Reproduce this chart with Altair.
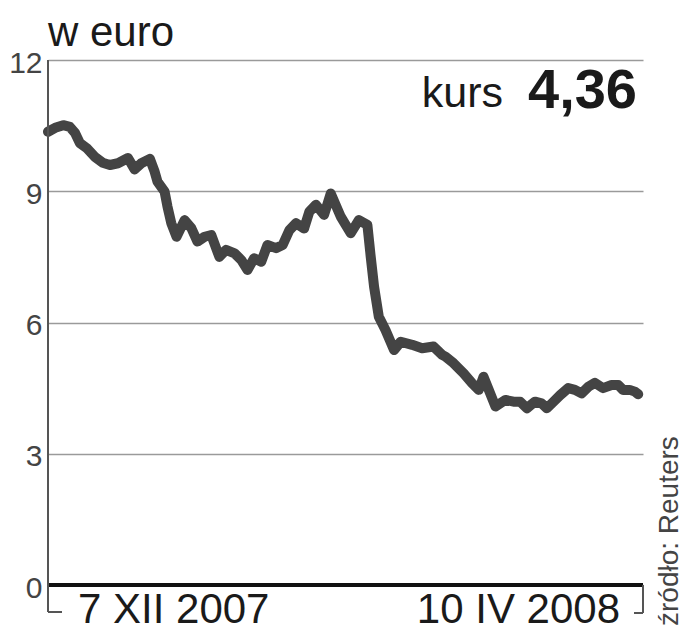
import altair as alt
import pandas as pd

# day offset from 7 XII 2007 and value (w euro)
days = [0, 1.5, 3.2, 4.6, 5.7, 6.7, 8.1, 9.8, 11.5, 13.0, 14.7, 16.8, 18.2, 19.6, 21.4,
        22.4, 23.0, 24.5, 25.1, 25.9, 27.0, 28.7, 30.1, 31.4, 32.9, 34.3, 36.0, 37.4,
        39.2, 40.6, 41.9, 43.3, 44.8, 46.1, 47.9, 49.3, 50.7, 52.1, 53.8, 54.9, 56.3,
        58.0, 59.4, 61.5, 63.6, 65.3, 67.1, 67.8, 68.5, 69.5, 70.9, 72.7, 74.1, 76.5,
        78.6, 81.0, 82.8, 83.5, 85.2, 87.3, 89.1, 90.5, 91.5, 92.6, 94.0, 96.1, 97.8,
        99.2, 100.6, 102.3, 103.7, 104.8, 106.2, 107.6, 109.3, 110.7, 112.1, 113.5,
        114.9, 116.6, 118.4, 119.8, 120.8, 122.2, 123.3, 124.0]
values = [10.36, 10.45, 10.51, 10.47, 10.33, 10.10, 9.99, 9.79, 9.65, 9.60, 9.64, 9.76,
          9.50, 9.64, 9.74, 9.45, 9.22, 8.99, 8.65, 8.27, 7.96, 8.34, 8.16, 7.85, 7.96,
          8.00, 7.50, 7.66, 7.58, 7.43, 7.20, 7.47, 7.39, 7.77, 7.70, 7.77, 8.11, 8.27,
          8.15, 8.53, 8.69, 8.46, 8.95, 8.42, 8.04, 8.34, 8.23, 7.50, 6.82, 6.13, 5.83,
          5.37, 5.56, 5.49, 5.41, 5.45, 5.26, 5.22, 5.07, 4.84, 4.61, 4.46, 4.76, 4.46,
          4.08, 4.23, 4.19, 4.19, 4.04, 4.19, 4.15, 4.04, 4.19, 4.34, 4.50, 4.46, 4.38,
          4.53, 4.62, 4.50, 4.57, 4.57, 4.46, 4.46, 4.42, 4.36]

y_ticks = [0, 3, 6, 9, 12]
start_label = "7 XII 2007"
end_label = "10 IV 2008"
unit_label = "w euro"
rate_word = "kurs"
rate_value = "4,36"
source = "źródło: Reuters"
span_days = 125

df = pd.DataFrame({"dzien": days, "kurs": values})

FONT = "Liberation Sans"
W, H = 595, 525

xs = alt.Scale(domain=[0, span_days], nice=False, zero=False)
ys = alt.Scale(domain=[0, 12], nice=False)

base = alt.Chart(df)

line = base.mark_line(color="#444444", strokeWidth=10, strokeJoin="round",
                      strokeCap="round").encode(
    x=alt.X("dzien:Q", scale=xs, axis=None),
    y=alt.Y("kurs:Q", scale=ys,
            axis=alt.Axis(values=y_ticks, grid=True, gridColor="#9a9a9a", gridWidth=1.5,
                          domain=False, ticks=False, labelFontSize=30, labelFont=FONT,
                          labelColor="#444444", labelPadding=6, labelOffset=3,
                          labelFlush=False, title=None)),
)

# left axis line with bracket
left_v = base.mark_rule(color="#555555", strokeWidth=2).encode(
    x=alt.X(datum=0, scale=xs), y=alt.value(0), y2=alt.value(552))
left_h = base.mark_rule(color="#555555", strokeWidth=2).encode(
    x=alt.X(datum=0, scale=xs), x2=alt.value(14), y=alt.value(552))
right_v = base.mark_rule(color="#555555", strokeWidth=2).encode(
    x=alt.X(datum=span_days, scale=xs), y=alt.value(525), y2=alt.value(553))
right_h = base.mark_rule(color="#555555", strokeWidth=2).encode(
    x=alt.X(datum=span_days, scale=xs), x2=alt.value(586), y=alt.value(553))

zero_line = base.mark_rule(color="#111111", strokeWidth=3.5).encode(
    x=alt.X(datum=0, scale=xs), x2=alt.X2(datum=span_days), y=alt.Y(datum=0, scale=ys))

def txt(text, x, y, size, align="left", weight="normal", color="#1a1a1a", angle=0):
    return alt.Chart(pd.DataFrame({"t": [text]})).mark_text(
        font=FONT, fontSize=size, align=align, baseline="alphabetic",
        fontWeight=weight, color=color, angle=angle).encode(
        x=alt.value(x), y=alt.value(y), text="t:N")

t_unit = txt(unit_label, 0, -14, 42)
t_kurs = txt(rate_word, 455, 47, 43, align="right")
t_val = txt(rate_value, 589, 48, 56, align="right", weight="bold")
t_start = txt(start_label, 30, 563, 42)
t_end = txt(end_label, 572, 563, 42, align="right")
t_src = txt(source, 630, 566, 28, color="#444444", angle=270)

chart = alt.layer(
    line, zero_line, left_v, left_h, right_v, right_h,
    t_unit, t_kurs, t_val, t_start, t_end, t_src
).properties(
    width=W, height=H,
    padding={"left": 40, "top": 52, "right": 42, "bottom": 47},
    autosize=alt.AutoSizeParams(type="none"),
).configure_view(stroke=None)

chart.save("out.html", embed_options={"renderer": "svg", "actions": False})
